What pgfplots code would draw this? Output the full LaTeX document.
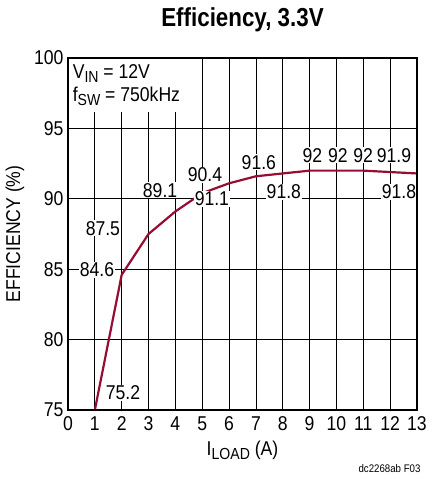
\documentclass[border=0pt]{standalone}
\usepackage{fontspec}
\setmainfont[FakeStretch=0.88]{Liberation Sans}
\newfontfamily\titlefont[FakeStretch=0.86]{Liberation Sans}
\usepackage{pgfplots}
\pgfplotsset{compat=1.18}
\definecolor{curve}{RGB}{150,12,50}
\newcommand\sub[1]{\raisebox{-0.4ex}{\fontsize{16}{16}\selectfont #1}}
\begin{document}
\begin{tikzpicture}
\path (-68pt,-69pt) rectangle (365pt,410pt);
\begin{axis}[
  at={(0,0)}, anchor=south west,
  scale only axis, width=349pt, height=352pt,
  xmin=0, xmax=13, ymin=75, ymax=100,
  xtick={0,1,...,13}, ytick={75,80,...,100},
  grid=major,
  major grid style={black, line width=0.8pt},
  axis line style={line width=1.4pt},
  tick style={draw=none},
  /pgf/number format/assume math mode=true,
  ticklabel style={font=\fontsize{20}{24}\selectfont},
  yticklabel style={xshift=-1pt},
  xticklabel style={yshift=-3pt},
  label style={font=\fontsize{20}{24}\selectfont},
  xlabel={I\sub{LOAD} (A)},
  ylabel={EFFICIENCY (\%)},
  xlabel style={yshift=-3pt},
  ylabel style={yshift=3pt},
  clip=false,
]
\addplot[curve, line width=2.2pt] coordinates {
(1,75) (2,84.6) (3,87.5) (4,89.1) (5,90.4) (6,91.1) (7,91.6) (8,91.8) (9,92) (10,92) (11,92) (12,91.9) (13,91.8)
};
\fill[white] (axis cs:0,96.2) rectangle (axis cs:4.55,100);
\begin{scope}[every node/.style={font=\fontsize{20}{24}\selectfont, fill=white, inner sep=1pt}]
\node[anchor=north west, fill=none, align=left, inner sep=0pt] at (axis cs:0.17,99.55) {V\sub{IN} = 12V\\[-1pt] f\sub{SW} = 750kHz};
\node at (axis cs:1.08,84.94) {84.6};
\node at (axis cs:1.3,87.9) {87.5};
\node at (axis cs:2.05,76.2) {75.2};
\node at (axis cs:3.43,90.6) {89.1};
\node at (axis cs:5.1,91.7) {90.4};
\node at (axis cs:5.36,90.0) {91.1};
\node at (axis cs:7.11,92.6) {91.6};
\node at (axis cs:8.04,90.5) {91.8};
\node at (axis cs:9.1,93.1) {92};
\node at (axis cs:10.05,93.1) {92};
\node at (axis cs:10.99,93.1) {92};
\node at (axis cs:12.14,93.1) {91.9};
\node at (axis cs:12.33,90.5) {91.8};
\end{scope}
\draw[line width=1.4pt] (rel axis cs:0,0) rectangle (rel axis cs:1,1);
\node[font=\titlefont\bfseries\fontsize{26}{30}\selectfont] at ([yshift=38pt]rel axis cs:0.5,1) {Efficiency, 3.3V};
\end{axis}
\node[anchor=east, font=\fontsize{11}{13}\selectfont] at (356pt,-59pt) {dc2268ab F03};
\end{tikzpicture}
\end{document}
